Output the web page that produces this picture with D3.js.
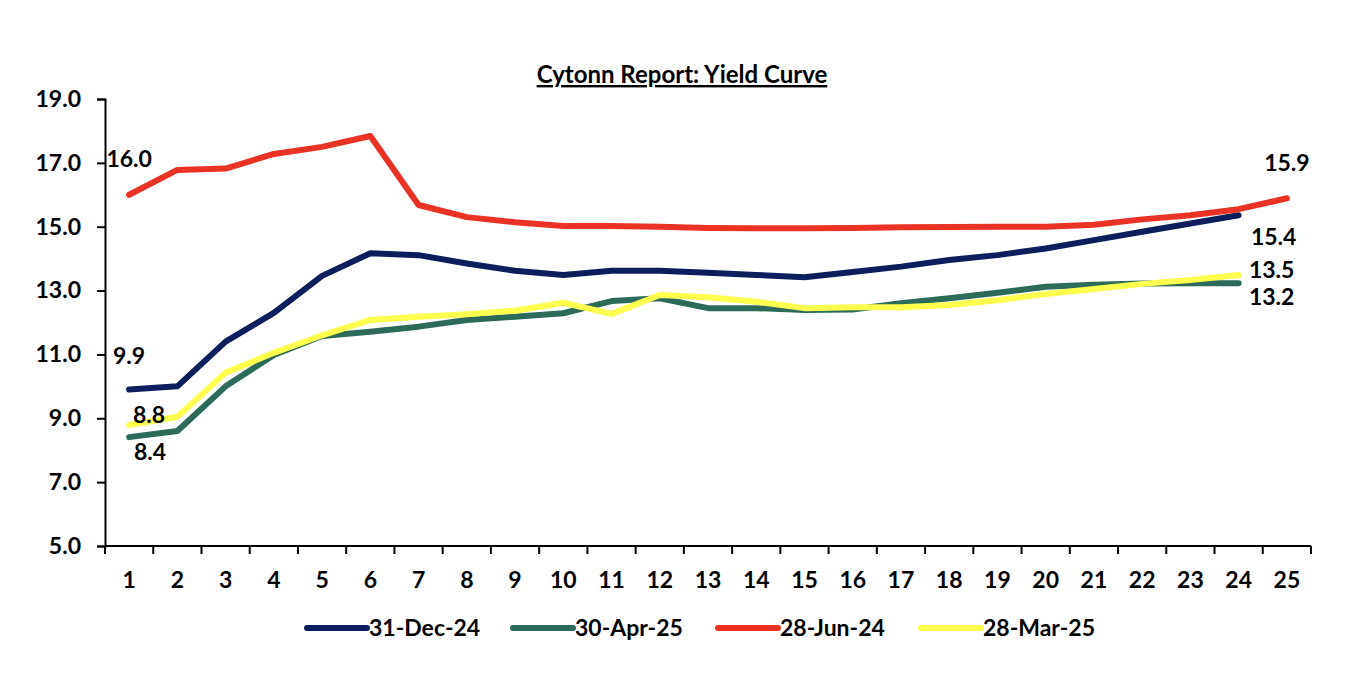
<!DOCTYPE html>
<html>
<head>
<meta charset="utf-8">
<script src="https://cdn.jsdelivr.net/npm/d3@7"></script>
<style>
  body { margin: 0; background: #fff; }
  text { font-family: Lato, "Open Sans", sans-serif; font-weight: 700; fill: #000; }
</style>
</head>
<body>
<svg id="chart"></svg>
<script>
// tenors (years) on the x axis
const tenors = d3.range(1, 26);

// series names, in drawing order
const seriesNames = ['31-Dec-24', '30-Apr-25', '28-Jun-24', '28-Mar-25'];
const seriesColors = ['#0c1f5c', '#2d6a59', '#ea3324', '#ffff4d'];

// yields (%), one value per tenor
const dec24 = [9.9, 10.0, 11.4, 12.3, 13.46, 14.17, 14.11, 13.85, 13.62, 13.49, 13.62, 13.62, 13.56,
  13.49, 13.42, 13.58, 13.75, 13.96, 14.11, 14.32, 14.58, 14.84, 15.1, 15.36];
const apr25 = [8.41, 8.6, 10.0, 10.98, 11.58, 11.71, 11.87, 12.08, 12.18, 12.29, 12.67, 12.76, 12.45,
  12.45, 12.39, 12.41, 12.6, 12.76, 12.93, 13.12, 13.18, 13.22, 13.23, 13.23];
const jun24 = [16.0, 16.78, 16.82, 17.28, 17.5, 17.84, 15.68, 15.3, 15.14, 15.02, 15.02, 15.0, 14.96,
  14.95, 14.95, 14.96, 14.98, 14.99, 15.0, 15.0, 15.06, 15.23, 15.36, 15.55, 15.89];
const mar25 = [8.79, 9.05, 10.43, 11.05, 11.6, 12.08, 12.18, 12.26, 12.37, 12.62, 12.27, 12.86, 12.79,
  12.65, 12.45, 12.48, 12.48, 12.55, 12.7, 12.89, 13.05, 13.21, 13.33, 13.49];

// y axis ticks
const yTicks = [5, 7, 9, 11, 13, 15, 17, 19];

const width = 1362;
const height = 678;

const svg = d3.select('#chart')
  .attr('width', width)
  .attr('height', height);

const x = d3.scaleBand()
  .domain(tenors)
  .range([105, 1311]);

const y = d3.scaleLinear()
  .domain([5, 19])
  .range([546, 99]);

const cx = d => x(d) + x.bandwidth() / 2;

// title
svg.append('text')
  .attr('x', 682)
  .attr('y', 83)
  .attr('text-anchor', 'middle')
  .attr('font-size', 24)
  .attr('text-decoration', 'underline')
  .text('Cytonn Report: Yield Curve');

// axes
const yAxis = svg.append('g')
  .attr('transform', 'translate(105,0)')
  .call(d3.axisLeft(y).tickValues(yTicks).tickFormat(d3.format('.1f')).tickSize(8).tickPadding(16));

const xAxis = svg.append('g')
  .attr('transform', 'translate(0,546)')
  .call(d3.axisBottom(x).tickSize(0).tickPadding(26));

// category ticks sit on the band edges
xAxis.selectAll('.edge')
  .data(tenors.concat([26]))
  .enter()
  .append('line')
  .attr('x1', d => d <= 25 ? x(d) : x(25) + x.bandwidth())
  .attr('x2', d => d <= 25 ? x(d) : x(25) + x.bandwidth())
  .attr('y1', 0)
  .attr('y2', 8)
  .attr('stroke', '#000')
  .attr('stroke-width', 2);

[yAxis, xAxis].forEach(g => {
  g.select('.domain').attr('stroke', '#000').attr('stroke-width', 2);
  g.selectAll('.tick line').attr('stroke', '#000').attr('stroke-width', 2);
  g.selectAll('.tick text').attr('font-size', 23).attr('font-family', 'Lato, sans-serif').attr('font-weight', 700);
});
xAxis.select('.domain').attr('d', 'M105,0H1311');

// lines
const line = d3.line()
  .x((d, i) => cx(tenors[i]))
  .y(d => y(d));

const seriesData = [dec24, apr25, jun24, mar25];

svg.selectAll('.series')
  .data(seriesData)
  .enter()
  .append('path')
  .attr('class', 'series')
  .attr('d', d => line(d))
  .attr('fill', 'none')
  .attr('stroke', (d, i) => seriesColors[i])
  .attr('stroke-width', 6)
  .attr('stroke-linejoin', 'round')
  .attr('stroke-linecap', 'round');

// data labels at first and last points
const labels = [
  { s: 2, i: 0, dx: 0, dy: -36 },
  { s: 0, i: 0, dx: 0, dy: -34 },
  { s: 3, i: 0, dx: 20, dy: -10 },
  { s: 1, i: 0, dx: 21, dy: 15 },
  { s: 2, i: 24, dx: 0, dy: -35 },
  { s: 0, i: 23, dx: 35, dy: 22 },
  { s: 3, i: 23, dx: 33, dy: -5 },
  { s: 1, i: 23, dx: 33, dy: 14 }
];

svg.selectAll('.dlabel')
  .data(labels)
  .enter()
  .append('text')
  .attr('class', 'dlabel')
  .attr('x', d => cx(tenors[d.i]) + d.dx)
  .attr('y', d => y(seriesData[d.s][d.i]) + d.dy)
  .attr('dy', '0.35em')
  .attr('text-anchor', 'middle')
  .attr('font-size', 23)
  .text(d => seriesData[d.s][d.i].toFixed(1));

// legend
const legendX = [307, 513, 718, 921];
const legend = svg.selectAll('.legend')
  .data(seriesNames)
  .enter()
  .append('g')
  .attr('class', 'legend')
  .attr('transform', (d, i) => `translate(${legendX[i]},628)`);

legend.append('line')
  .attr('x1', 0)
  .attr('x2', 60)
  .attr('stroke', (d, i) => seriesColors[i])
  .attr('stroke-width', 6)
  .attr('stroke-linecap', 'round');

legend.append('text')
  .attr('x', 62)
  .attr('dy', '0.35em')
  .attr('font-size', 23)
  .text(d => d);
</script>
</body>
</html>
